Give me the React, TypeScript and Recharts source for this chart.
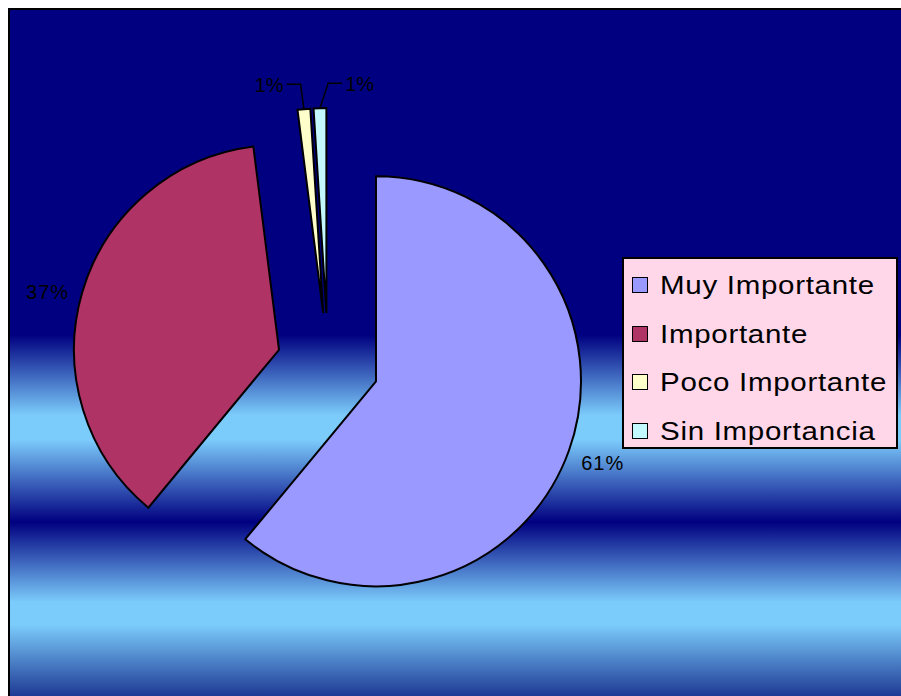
import { PieChart, Pie, Cell, Legend } from 'recharts'

const categories = ['Muy Importante', 'Importante', 'Poco Importante', 'Sin Importancia']
const shares = [61, 37, 1, 1]
const colors = ['#9999FF', '#B03366', '#FFFFCC', '#C4F8FF']

const data = categories.map((name, i) => ({ name, value: shares[i] }))

const W = 891
const H = 686
const CX = 318
const CY = 354
const R = 205
const EXPLODE = 51
const RAD = Math.PI / 180
const FONT = '"Liberation Sans", Arial, sans-serif'

// mid angle of every slice, recharts degrees (start at 12 o'clock, clockwise)
const total = shares.reduce((a, b) => a + b, 0)
const midAngles = shares.map((v, i) => {
  const before = shares.slice(0, i).reduce((a, b) => a + b, 0)
  return 90 - ((before + v / 2) / total) * 360
})

// excel nudges a few labels off the pure radial spot
const leaderShift = [0, 0, -1, 9]
const labelNudgeY = [0, 9, 0, 0]

function makeLabel(own: number) {
  return (p: any) => {
    if (p.index !== own) return <g />
    const text = `${Math.round(p.percent * 100)}%`
    const cos = Math.cos(-p.midAngle * RAD)
    const sin = Math.sin(-p.midAngle * RAD)
    if (p.percent > 0.05) {
      const x = p.cx + (p.outerRadius + 36) * cos
      const y = p.cy + (p.outerRadius + 36) * sin + labelNudgeY[own]
      return (
        <text x={x} y={y} textAnchor="middle" dominantBaseline="central" fill="#000"
          fontSize={20} fontFamily={FONT} letterSpacing={1}>
          {text}
        </text>
      )
    }
    const side = own === 2 ? -1 : 1
    const tx = p.cx + p.outerRadius * cos
    const ty = p.cy + p.outerRadius * sin
    const ex = p.cx + (p.outerRadius + 25) * cos + leaderShift[own]
    const ey = p.cy + (p.outerRadius + 25) * sin
    const hx = ex + side * 14
    return (
      <g>
        <polyline points={`${tx},${ty} ${ex},${ey} ${hx},${ey}`} fill="none" stroke="#000" strokeWidth={1.5} />
        <text x={hx + side * 3} y={ey + 1} textAnchor={side < 0 ? 'end' : 'start'} dominantBaseline="central"
          fill="#000" fontSize={20} fontFamily={FONT}>
          {text}
        </text>
      </g>
    )
  }
}

function LegendBox() {
  return (
    <div style={{
      position: 'relative', width: 276, height: 192, boxSizing: 'border-box',
      background: '#FFD7E9', border: '2px solid #000', fontFamily: FONT,
    }}>
      {categories.map((name, i) => (
        <div key={name} style={{ position: 'absolute', left: 0, top: 10 + i * 48.5, height: 32, width: '100%' }}>
          <div style={{
            position: 'absolute', left: 8, top: 8, width: 16, height: 16, boxSizing: 'border-box',
            background: colors[i], border: '1.5px solid #000',
          }} />
          <div style={{
            position: 'absolute', left: 36, top: 0, lineHeight: '32px', fontSize: 25,
            letterSpacing: 0.6, color: '#000', whiteSpace: 'nowrap',
            transform: 'scaleX(1.18)', transformOrigin: 'left center',
          }}>
            {name}
          </div>
        </div>
      ))}
    </div>
  )
}

export default function App() {
  return (
    <div style={{
      position: 'fixed', left: 8, top: 8, width: W + 2, height: H + 2, boxSizing: 'border-box',
      borderTop: '2px solid #000', borderLeft: '2px solid #000', overflow: 'hidden',
      background: 'linear-gradient(to bottom, #000080 0px, #000080 325px, #7BCBFB 405px, #7BCBFB 430px, #000080 512px, #7BCBFB 592px, #7BCBFB 615px, #1E3A94 686px)',
    }}>
      <style>{'html,body{overflow:hidden}'}</style>
      <PieChart width={W} height={H} margin={{ top: 0, right: 0, bottom: 0, left: 0 }}>
        {categories.map((name, k) => (
          <Pie
            key={name}
            data={data}
            dataKey="value"
            nameKey="name"
            cx={CX + EXPLODE * Math.cos(-midAngles[k] * RAD)}
            cy={CY + EXPLODE * Math.sin(-midAngles[k] * RAD)}
            outerRadius={R}
            startAngle={90}
            endAngle={-270}
            label={makeLabel(k)}
            labelLine={false}
            isAnimationActive={false}
          >
            {data.map((d, i) => (
              <Cell
                key={d.name}
                fill={i === k ? colors[i] : 'none'}
                stroke={i === k ? '#000' : 'none'}
                strokeWidth={2}
              />
            ))}
          </Pie>
        ))}
        <Legend content={() => <LegendBox />} wrapperStyle={{ left: 612, top: 247, width: 276, height: 192 }} />
      </PieChart>
    </div>
  )
}
